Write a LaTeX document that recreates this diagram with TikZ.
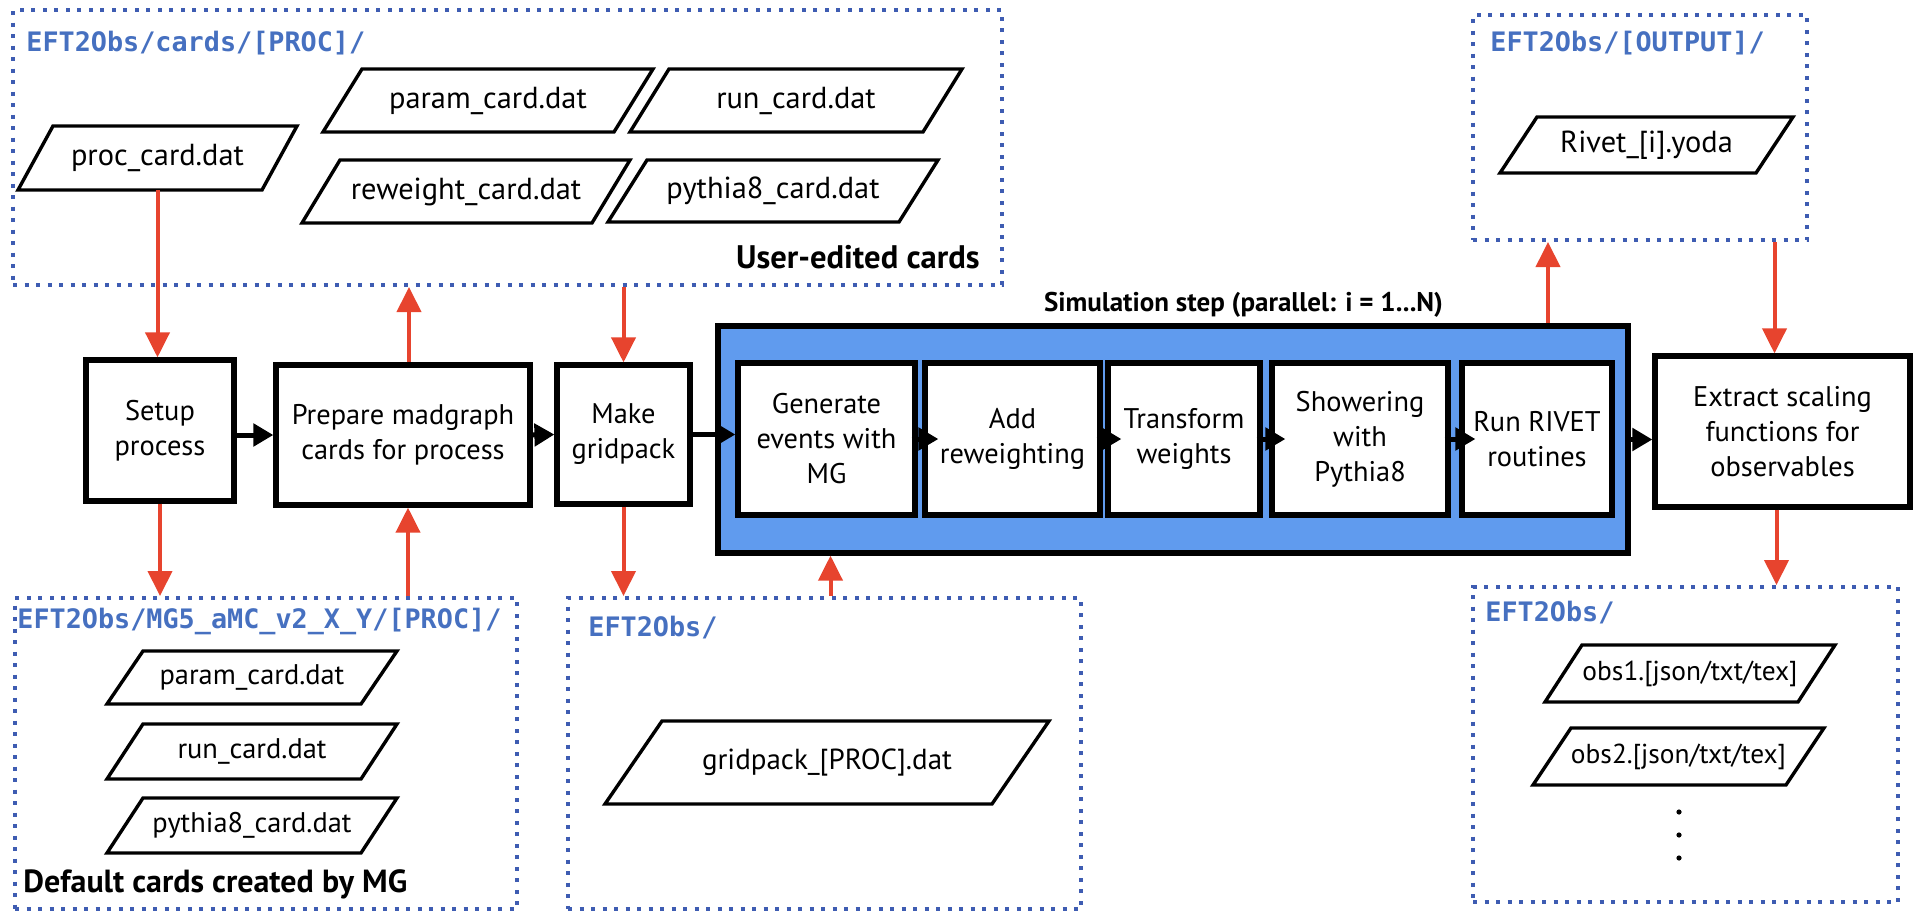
\documentclass[tikz,border=0pt]{standalone}
\usepackage{fontspec}
\setmainfont{PT Sans}
\newfontfamily\titlefont{DejaVu Sans Mono}
\usetikzlibrary{arrows.meta}
\definecolor{dotblue}{RGB}{62,92,178}
\definecolor{titleblue}{RGB}{70,112,192}
\definecolor{simblue}{RGB}{96,155,238}
\definecolor{arrred}{RGB}{231,68,46}
\tikzset{
  every node/.style={font=\fontsize{14.2}{17.5}\selectfont},
  dotbox/.style={draw=dotblue, line width=2pt, dash pattern=on 2pt off 3.75pt, rectangle, inner sep=0pt},
  dirtitle/.style={anchor=west, text=titleblue, font=\titlefont\bfseries\fontsize{13.4}{16}\selectfont, inner sep=0pt},
  cardline/.style={draw, line width=1.7pt, fill=white, line join=miter},
  cardtext/.style={inner sep=0pt},
  procbox/.style={draw, line width=2.6pt, fill=white, align=center, inner sep=0pt},
  boldlabel/.style={inner sep=0pt},
  redarrow/.style={draw=arrred, line width=2pt, -{Triangle[width=12pt,length=12.5pt]}},
  blkarrow/.style={draw=black, line width=2.5pt, -{Triangle[width=11pt,length=10pt]}},
}
% #1 name, #2 cx, #3 cy, #4 total width (px), #5 height (px), #6 slant (px), #7 font size (pt), #8 text
\newcommand{\mycard}[8]{%
  \draw[cardline] ({#2-#4/2},{#3+#5/2}) -- ({#2+#4/2-#6},{#3+#5/2}) -- ({#2+#4/2},{#3-#5/2}) -- ({#2-#4/2+#6},{#3-#5/2}) -- cycle;
  \node[cardtext, font=\fontsize{#7}{#7}\selectfont, minimum height=#5*0.5pt] (#1) at (#2,#3) {#8};
}
\begin{document}
\begin{tikzpicture}[x=0.5pt,y=-0.5pt]
\useasboundingbox (0,0) rectangle (1913,916);

% dotted directory boxes
\node[dotbox, minimum width=494.5pt, minimum height=137.5pt] (cardsbox) at (507.5,147.5) {};
\node[dotbox, minimum width=167pt, minimum height=112.5pt] (outbox) at (1640,127.5) {};
\node[dotbox, minimum width=251pt, minimum height=155.5pt] (mgbox) at (266,753.5) {};
\node[dotbox, minimum width=256.5pt, minimum height=155.5pt] (gridbox) at (824.5,753.5) {};
\node[dotbox, minimum width=212.5pt, minimum height=157.5pt] (obsbox) at (1685.5,744.5) {};

% titles
\node[dirtitle] (t1) at (26,43) {EFT2Obs/cards/[PROC]/};
\node[dirtitle] (t2) at (1490,43) {EFT2Obs/[OUTPUT]/};
\node[dirtitle] (t3) at (17,621) {EFT2Obs/MG5\_aMC\_v2\_X\_Y/[PROC]/};
\node[dirtitle] (t4) at (588,628) {EFT2Obs/};
\node[dirtitle] (t5) at (1485,613) {EFT2Obs/};

% user-edited cards
\mycard{proc}{157.5}{158}{279}{64}{35}{15.2}{proc\_card.dat}
\mycard{param}{488}{100.5}{330}{63}{39}{15.2}{param\_card.dat}
\mycard{run}{796}{100.5}{332}{63}{39}{15.2}{run\_card.dat}
\mycard{rew}{466}{191.5}{328}{63}{38}{15.2}{reweight\_card.dat}
\mycard{py}{773}{191}{330}{62}{39}{15.2}{pythia8\_card.dat}
\node[boldlabel, anchor=east, font=\bfseries\fontsize{16.3}{18}\selectfont] (uec) at (980,257) {User-edited cards};

% output card
\mycard{yoda}{1646.5}{145}{293}{56}{37}{15.2}{Rivet\_[i].yoda}

% default cards
\mycard{mgparam}{252}{677.5}{290}{53}{36}{14.2}{param\_card.dat}
\mycard{mgrun}{252}{751.5}{290}{55}{36}{14.2}{run\_card.dat}
\mycard{mgpy}{252}{825.5}{290}{55}{36}{14.2}{pythia8\_card.dat}
\node[boldlabel, anchor=west, font=\bfseries\fontsize{16}{18}\selectfont] (dcm) at (23,884) {Default cards created by MG};

% gridpack
\mycard{gp}{827}{762.5}{444}{83}{57}{14.5}{gridpack\_[PROC].dat}

% observables
\mycard{obs1}{1690}{673.5}{290}{57}{37}{13.7}{obs1.[json/txt/tex]}
\mycard{obs2}{1678.5}{756.5}{291}{57}{38}{13.7}{obs2.[json/txt/tex]}
\fill (1679,812) circle (1.3pt);
\fill (1679,835) circle (1.3pt);
\fill (1679,858) circle (1.3pt);

% process boxes
\node[procbox, minimum width=74pt, minimum height=70.5pt] (setup) at (160,430.5) {Setup\\process};
\node[procbox, minimum width=127pt, minimum height=70pt] (prep) at (403,435) {Prepare madgraph\\cards for process};
\node[procbox, minimum width=66.5pt, minimum height=69.5pt] (make) at (623.5,434.5) {Make\\gridpack};

\node[draw, line width=2.6pt, fill=simblue, minimum width=455pt, minimum height=113.5pt, inner sep=0pt] (sim) at (1173,439.5) {};
\node[boldlabel, font=\bfseries\fontsize{13.5}{16}\selectfont] (simlabel) at (1243.5,305) {Simulation step (parallel: i = 1...N)};

\node[procbox, minimum width=88.5pt, minimum height=76pt] (gen) at (826.5,439) {Generate\\events with\\MG};
\node[procbox, minimum width=87.5pt, minimum height=76pt] (add) at (1012.5,439) {Add\\reweighting};
\node[procbox, minimum width=76pt, minimum height=76pt] (trans) at (1184,439) {Transform\\weights};
\node[procbox, minimum width=88pt, minimum height=76pt] (show) at (1360,439) {Showering\\with\\Pythia8};
\node[procbox, minimum width=75pt, minimum height=76pt] (rivet) at (1537,439) {Run RIVET\\routines};

\node[procbox, minimum width=127.5pt, minimum height=75.5pt] (extract) at (1782.5,431.5) {Extract scaling\\functions for\\observables};

% helper coordinates for red connectors
\coordinate (prepup) at ([xshift=3pt]prep.north);
\coordinate (prepdn) at ([xshift=2.5pt]prep.south);
\coordinate (genx) at ([xshift=2pt]gen.south);
\coordinate (rivx) at ([xshift=5.5pt]rivet.north);
\coordinate (extup) at ([xshift=-4pt]extract.north);
\coordinate (extdn) at ([xshift=-3pt]extract.south);

% red connectors
\draw[redarrow] (proc.south) -- (proc.south |- setup.north);
\draw[redarrow] (prepup) -- (prepup |- cardsbox.south);
\draw[redarrow] (make.north |- cardsbox.south) -- (make.north);
\draw[redarrow] (setup.south) -- (setup.south |- mgbox.north);
\draw[redarrow] (prepdn |- mgbox.north) -- (prepdn);
\draw[redarrow] (make.south) -- (make.south |- gridbox.north);
\draw[redarrow] (genx |- gridbox.north) -- (genx |- sim.south);
\draw[redarrow] (rivx |- sim.north) -- (rivx |- outbox.south);
\draw[redarrow] (extup |- outbox.south) -- (extup);
\draw[redarrow] (extdn) -- (extdn |- obsbox.north);

% black connectors
\draw[blkarrow] (setup.east |- prep.center) -- (prep.west);
\draw[blkarrow] (prep.east) -- (make.west);
\draw[blkarrow] (make.east) -- (gen.west |- make.east);
\draw[blkarrow] ([xshift=-3pt]gen.east) -- ([xshift=8pt]add.west);
\draw[blkarrow] ([xshift=-3pt]add.east) -- ([xshift=8pt]trans.west);
\draw[blkarrow] ([xshift=-3pt]trans.east) -- ([xshift=8pt]show.west);
\draw[blkarrow] ([xshift=-3pt]show.east) -- ([xshift=8pt]rivet.west);
\draw[blkarrow] (sim.east) -- (extract.west |- sim.east);
\end{tikzpicture}
\end{document}
